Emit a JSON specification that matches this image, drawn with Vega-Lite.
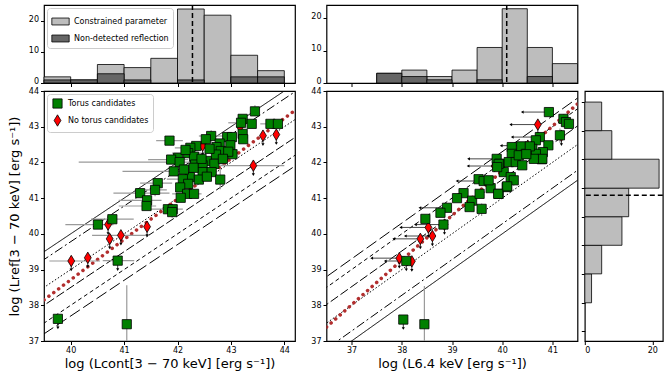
{
  "$schema": "https://vega.github.io/schema/vega-lite/v6.json",
  "background": "white",
  "padding": {"left": 7, "top": 3, "right": 0, "bottom": 0},
  "config": {
    "font": "DejaVu Sans",
    "view": {"stroke": "black", "strokeWidth": 1.2},
    "axis": {"grid": false, "domain": false, "tickColor": "black", "tickSize": 3.5, "tickWidth": 1, "labelColor": "black", "labelFontSize": 8, "labelFont": "DejaVu Sans", "labelPadding": 2, "labelOverlap": false, "titleFont": "DejaVu Sans", "titleFontWeight": "normal", "titleColor": "black", "titleFontSize": 13},
    "legend": {"labelFont": "DejaVu Sans", "labelColor": "black"}
  },
  "datasets": {
    "histL": [
      {"kind": "Constrained parameter", "lo": 39.5, "hi": 40, "n": 2},
      {"kind": "Constrained parameter", "lo": 40, "hi": 40.5, "n": 1},
      {"kind": "Constrained parameter", "lo": 40.5, "hi": 41, "n": 6},
      {"kind": "Constrained parameter", "lo": 41, "hi": 41.5, "n": 5},
      {"kind": "Constrained parameter", "lo": 41.5, "hi": 42, "n": 8},
      {"kind": "Constrained parameter", "lo": 42, "hi": 42.5, "n": 24},
      {"kind": "Constrained parameter", "lo": 42.5, "hi": 43, "n": 22},
      {"kind": "Constrained parameter", "lo": 43, "hi": 43.5, "n": 9},
      {"kind": "Constrained parameter", "lo": 43.5, "hi": 44, "n": 4},
      {"kind": "Non-detected reflection", "lo": 39.5, "hi": 40, "n": 1},
      {"kind": "Non-detected reflection", "lo": 40, "hi": 40.5, "n": 1},
      {"kind": "Non-detected reflection", "lo": 40.5, "hi": 41, "n": 3},
      {"kind": "Non-detected reflection", "lo": 41, "hi": 41.5, "n": 1},
      {"kind": "Non-detected reflection", "lo": 42, "hi": 42.5, "n": 1},
      {"kind": "Non-detected reflection", "lo": 43, "hi": 43.5, "n": 2},
      {"kind": "Non-detected reflection", "lo": 43.5, "hi": 44, "n": 2}
    ],
    "histT": [
      {"kind": "Constrained parameter", "lo": 37.5, "hi": 38, "n": 3},
      {"kind": "Constrained parameter", "lo": 38, "hi": 38.5, "n": 4},
      {"kind": "Constrained parameter", "lo": 38.5, "hi": 39, "n": 2},
      {"kind": "Constrained parameter", "lo": 39, "hi": 39.5, "n": 4},
      {"kind": "Constrained parameter", "lo": 39.5, "hi": 40, "n": 11},
      {"kind": "Constrained parameter", "lo": 40, "hi": 40.5, "n": 23},
      {"kind": "Constrained parameter", "lo": 40.5, "hi": 41, "n": 11},
      {"kind": "Constrained parameter", "lo": 41, "hi": 41.5, "n": 6},
      {"kind": "Non-detected reflection", "lo": 37.5, "hi": 38, "n": 3},
      {"kind": "Non-detected reflection", "lo": 38, "hi": 38.5, "n": 2},
      {"kind": "Non-detected reflection", "lo": 38.5, "hi": 39, "n": 1},
      {"kind": "Non-detected reflection", "lo": 39.5, "hi": 40, "n": 1},
      {"kind": "Non-detected reflection", "lo": 40.5, "hi": 41, "n": 2}
    ],
    "histR": [
      {"lo": 38.07, "hi": 38.88, "n": 2},
      {"lo": 38.88, "hi": 39.68, "n": 5},
      {"lo": 39.68, "hi": 40.48, "n": 11},
      {"lo": 40.48, "hi": 41.28, "n": 13},
      {"lo": 41.28, "hi": 42.09, "n": 22},
      {"lo": 42.09, "hi": 42.89, "n": 8},
      {"lo": 42.89, "hi": 43.69, "n": 5}
    ],
    "medL": [{"v": 42.28}],
    "medT": [{"v": 40.09}],
    "medR": [{"v": 41.08}],
    "diagL": [
      {"style": "a", "x1": 36, "y1": 36, "x2": 46, "y2": 46},
      {"style": "b", "x1": 36, "y1": 35.78, "x2": 46, "y2": 45.78},
      {"style": "c", "x1": 36, "y1": 35, "x2": 46, "y2": 45},
      {"style": "d", "x1": 36, "y1": 34.5, "x2": 46, "y2": 44.5},
      {"style": "e", "x1": 36, "y1": 34, "x2": 46, "y2": 44},
      {"style": "f", "x1": 36, "y1": 33.7, "x2": 46, "y2": 43.7}
    ],
    "diagR": [
      {"style": "a", "x1": 36, "y1": 36, "x2": 46, "y2": 46},
      {"style": "b", "x1": 36, "y1": 36.28, "x2": 46, "y2": 46.28},
      {"style": "c", "x1": 36, "y1": 37, "x2": 46, "y2": 47},
      {"style": "d", "x1": 36, "y1": 37.52, "x2": 46, "y2": 47.52},
      {"style": "e", "x1": 36, "y1": 38, "x2": 46, "y2": 48},
      {"style": "f", "x1": 36, "y1": 38.3, "x2": 46, "y2": 48.3}
    ],
    "fitL": [{"x1": 39.5, "y1": 38.15, "x2": 44.2, "y2": 43.46}],
    "fitR": [{"x1": 36.5, "y1": 37.39, "x2": 41.5, "y2": 43.64}],
    "ptsL": [
      {"type": "No torus candidates", "x": 43.17, "y": 43.0},
      {"type": "No torus candidates", "x": 42.47, "y": 42.47, "ya": 42.22},
      {"type": "No torus candidates", "x": 43.6, "y": 42.75, "ya": 42.5},
      {"type": "No torus candidates", "x": 43.85, "y": 42.78, "ya": 42.53},
      {"type": "No torus candidates", "x": 43.42, "y": 41.91, "ya": 41.66, "xlo": 42.8, "xhi": 44.0},
      {"type": "No torus candidates", "x": 40.7, "y": 40.26, "ya": 40.01},
      {"type": "No torus candidates", "x": 41.43, "y": 40.2, "ya": 39.95},
      {"type": "No torus candidates", "x": 40.73, "y": 39.86, "ya": 39.61},
      {"type": "No torus candidates", "x": 40.94, "y": 39.96, "ya": 39.71, "xlo": 40.4, "xhi": 41.47},
      {"type": "No torus candidates", "x": 40.01, "y": 39.24, "ya": 38.99, "xlo": 39.6, "xhi": 40.55},
      {"type": "No torus candidates", "x": 40.32, "y": 39.33, "ya": 39.08},
      {"type": "Torus candidates", "x": 43.45, "y": 43.43, "ylo": 43.3, "yhi": 43.6},
      {"type": "Torus candidates", "x": 43.22, "y": 43.22},
      {"type": "Torus candidates", "x": 43.19, "y": 43.11, "xlo": 42.95, "xhi": 43.4},
      {"type": "Torus candidates", "x": 43.39, "y": 43.08},
      {"type": "Torus candidates", "x": 43.74, "y": 43.08, "xlo": 43.55, "xhi": 43.95},
      {"type": "Torus candidates", "x": 43.88, "y": 43.08},
      {"type": "Torus candidates", "x": 43.22, "y": 42.8, "ylo": 42.6, "yhi": 42.95},
      {"type": "Torus candidates", "x": 43.23, "y": 42.65},
      {"type": "Torus candidates", "x": 42.63, "y": 42.74, "xlo": 42.4, "xhi": 42.85, "ylo": 42.55, "yhi": 42.9},
      {"type": "Torus candidates", "x": 42.93, "y": 42.71},
      {"type": "Torus candidates", "x": 43.02, "y": 42.71},
      {"type": "Torus candidates", "x": 41.85, "y": 42.61, "xlo": 41.6, "xhi": 42.1},
      {"type": "Torus candidates", "x": 42.53, "y": 42.65},
      {"type": "Torus candidates", "x": 42.35, "y": 42.46},
      {"type": "Torus candidates", "x": 42.79, "y": 42.53},
      {"type": "Torus candidates", "x": 42.99, "y": 42.48},
      {"type": "Torus candidates", "x": 42.24, "y": 42.41, "xlo": 41.95, "xhi": 42.55},
      {"type": "Torus candidates", "x": 42.73, "y": 42.43},
      {"type": "Torus candidates", "x": 42.81, "y": 42.32},
      {"type": "Torus candidates", "x": 42.2, "y": 42.26, "xlo": 41.9, "xhi": 42.5},
      {"type": "Torus candidates", "x": 42.72, "y": 42.22},
      {"type": "Torus candidates", "x": 43.03, "y": 42.23},
      {"type": "Torus candidates", "x": 42.01, "y": 42.13},
      {"type": "Torus candidates", "x": 42.31, "y": 42.16},
      {"type": "Torus candidates", "x": 41.88, "y": 42.08, "xlo": 41.45, "xhi": 42.2},
      {"type": "Torus candidates", "x": 42.04, "y": 42.01, "xlo": 40.15, "xhi": 42.3},
      {"type": "Torus candidates", "x": 42.55, "y": 42.04},
      {"type": "Torus candidates", "x": 42.33, "y": 41.94},
      {"type": "Torus candidates", "x": 42.69, "y": 41.96, "xlo": 42.45, "xhi": 42.9},
      {"type": "Torus candidates", "x": 42.47, "y": 41.92},
      {"type": "Torus candidates", "x": 41.93, "y": 41.75, "xlo": 40.97, "xhi": 42.1},
      {"type": "Torus candidates", "x": 42.47, "y": 41.73},
      {"type": "Torus candidates", "x": 42.64, "y": 41.73},
      {"type": "Torus candidates", "x": 42.23, "y": 41.59},
      {"type": "Torus candidates", "x": 42.1, "y": 41.53, "xlo": 41.8, "xhi": 42.4},
      {"type": "Torus candidates", "x": 42.4, "y": 41.52},
      {"type": "Torus candidates", "x": 42.8, "y": 41.52, "ylo": 41.25, "yhi": 41.8},
      {"type": "Torus candidates", "x": 41.63, "y": 41.42, "xlo": 41.3, "xhi": 41.9},
      {"type": "Torus candidates", "x": 42.2, "y": 41.4},
      {"type": "Torus candidates", "x": 42.05, "y": 41.3},
      {"type": "Torus candidates", "x": 41.58, "y": 41.23, "xlo": 41.2, "xhi": 41.8, "ylo": 41.05, "yhi": 41.4},
      {"type": "Torus candidates", "x": 41.3, "y": 41.14, "xlo": 40.8, "xhi": 41.85},
      {"type": "Torus candidates", "x": 42.18, "y": 41.12, "xlo": 41.9, "xhi": 42.45},
      {"type": "Torus candidates", "x": 42.31, "y": 41.12},
      {"type": "Torus candidates", "x": 42.06, "y": 41.01},
      {"type": "Torus candidates", "x": 41.43, "y": 40.94, "xlo": 40.9, "xhi": 41.7},
      {"type": "Torus candidates", "x": 41.42, "y": 40.78, "xlo": 40.9, "xhi": 41.6},
      {"type": "Torus candidates", "x": 41.82, "y": 40.69, "xlo": 41.5, "xhi": 42.1},
      {"type": "Torus candidates", "x": 41.91, "y": 40.69},
      {"type": "Torus candidates", "x": 41.9, "y": 40.61, "ylo": 40.45, "yhi": 40.75},
      {"type": "Torus candidates", "x": 40.78, "y": 40.41, "xlo": 40.38, "xhi": 41.18},
      {"type": "Torus candidates", "x": 40.51, "y": 40.26, "xlo": 39.9, "xhi": 40.8},
      {"type": "Torus candidates", "x": 40.88, "y": 39.25, "xlo": 40.6, "xhi": 41.19, "ya": 39.0},
      {"type": "Torus candidates", "x": 39.76, "y": 37.62, "ya": 37.37},
      {"type": "Torus candidates", "x": 41.05, "y": 37.47, "ylo": 37.0, "yhi": 38.56},
      {"type": "Torus candidates", "x": 42.95, "y": 42.3},
      {"type": "Torus candidates", "x": 42.15, "y": 42.35},
      {"type": "Torus candidates", "x": 42.45, "y": 42.1},
      {"type": "Torus candidates", "x": 42.6, "y": 42.38},
      {"type": "Torus candidates", "x": 42.3, "y": 41.85},
      {"type": "Torus candidates", "x": 42.85, "y": 42.1},
      {"type": "Torus candidates", "x": 42.12, "y": 41.8},
      {"type": "Torus candidates", "x": 42.55, "y": 41.6}
    ],
    "ptsR": [
      {"type": "No torus candidates", "x": 38.37, "y": 39.86, "xa": 37.84, "ya": 39.61},
      {"type": "No torus candidates", "x": 38.53, "y": 40.18, "xa": 37.98, "ya": 39.93},
      {"type": "No torus candidates", "x": 38.61, "y": 39.94, "xa": 38.07, "ya": 39.69},
      {"type": "No torus candidates", "x": 38.85, "y": 40.26, "xa": 38.27, "ya": 40.01},
      {"type": "No torus candidates", "x": 37.95, "y": 39.32, "xa": 37.4, "ya": 39.07},
      {"type": "No torus candidates", "x": 38.2, "y": 39.23, "ya": 38.98},
      {"type": "No torus candidates", "x": 39.85, "y": 41.9, "xa": 39.32},
      {"type": "No torus candidates", "x": 40.51, "y": 42.47, "xa": 39.98, "ya": 42.22},
      {"type": "No torus candidates", "x": 40.71, "y": 43.06, "xa": 40.17, "ya": 42.81},
      {"type": "No torus candidates", "x": 41.18, "y": 42.75, "ya": 42.5},
      {"type": "Torus candidates", "x": 40.93, "y": 43.41, "xa": 40.4},
      {"type": "Torus candidates", "x": 41.22, "y": 43.22},
      {"type": "Torus candidates", "x": 41.27, "y": 43.13},
      {"type": "Torus candidates", "x": 41.33, "y": 43.08},
      {"type": "Torus candidates", "x": 41.15, "y": 42.76, "ylo": 42.55, "yhi": 42.95},
      {"type": "Torus candidates", "x": 40.75, "y": 42.71, "xa": 40.2},
      {"type": "Torus candidates", "x": 40.67, "y": 42.62, "ylo": 42.5, "yhi": 42.8},
      {"type": "Torus candidates", "x": 40.92, "y": 42.48},
      {"type": "Torus candidates", "x": 40.19, "y": 42.43},
      {"type": "Torus candidates", "x": 40.38, "y": 42.45},
      {"type": "Torus candidates", "x": 40.6, "y": 42.38},
      {"type": "Torus candidates", "x": 40.81, "y": 42.29},
      {"type": "Torus candidates", "x": 40.19, "y": 42.24},
      {"type": "Torus candidates", "x": 40.47, "y": 42.24},
      {"type": "Torus candidates", "x": 40.67, "y": 42.24},
      {"type": "Torus candidates", "x": 39.89, "y": 42.1, "xa": 39.33},
      {"type": "Torus candidates", "x": 40.79, "y": 42.09},
      {"type": "Torus candidates", "x": 39.95, "y": 41.96},
      {"type": "Torus candidates", "x": 40.13, "y": 42.01},
      {"type": "Torus candidates", "x": 40.27, "y": 42.01},
      {"type": "Torus candidates", "x": 40.4, "y": 41.92},
      {"type": "Torus candidates", "x": 40.03, "y": 41.73},
      {"type": "Torus candidates", "x": 40.17, "y": 41.59},
      {"type": "Torus candidates", "x": 40.23, "y": 41.5, "ylo": 41.35, "yhi": 41.65},
      {"type": "Torus candidates", "x": 39.53, "y": 41.53},
      {"type": "Torus candidates", "x": 39.63, "y": 41.48, "xa": 39.1},
      {"type": "Torus candidates", "x": 39.77, "y": 41.28},
      {"type": "Torus candidates", "x": 39.93, "y": 41.12},
      {"type": "Torus candidates", "x": 40.09, "y": 41.31},
      {"type": "Torus candidates", "x": 39.23, "y": 41.14},
      {"type": "Torus candidates", "x": 39.1, "y": 41.0},
      {"type": "Torus candidates", "x": 39.4, "y": 40.93},
      {"type": "Torus candidates", "x": 39.35, "y": 40.75},
      {"type": "Torus candidates", "x": 39.55, "y": 41.12},
      {"type": "Torus candidates", "x": 39.59, "y": 40.7, "ylo": 40.5, "yhi": 40.85},
      {"type": "Torus candidates", "x": 38.9, "y": 40.73, "xa": 38.36},
      {"type": "Torus candidates", "x": 38.77, "y": 40.59},
      {"type": "Torus candidates", "x": 38.47, "y": 40.42},
      {"type": "Torus candidates", "x": 38.83, "y": 40.26},
      {"type": "Torus candidates", "x": 40.55, "y": 42.45},
      {"type": "Torus candidates", "x": 40.8, "y": 42.1},
      {"type": "Torus candidates", "x": 40.63, "y": 42.1},
      {"type": "Torus candidates", "x": 40.33, "y": 42.2},
      {"type": "Torus candidates", "x": 39.93, "y": 41.96},
      {"type": "Torus candidates", "x": 39.9, "y": 41.87},
      {"type": "Torus candidates", "x": 39.73, "y": 41.5},
      {"type": "Torus candidates", "x": 40.1, "y": 41.33},
      {"type": "Torus candidates", "x": 39.92, "y": 41.12},
      {"type": "Torus candidates", "x": 40.48, "y": 42.23},
      {"type": "Torus candidates", "x": 38.09, "y": 39.24, "xa": 37.67, "ya": 38.99},
      {"type": "Torus candidates", "x": 38.03, "y": 37.6, "ya": 37.35},
      {"type": "Torus candidates", "x": 38.45, "y": 37.47, "ylo": 37.0, "yhi": 38.54}
    ]
  },
  "spacing": 13.5,
  "resolve": {"scale": {"color": "independent", "shape": "independent", "fill": "independent", "size": "independent", "strokeDash": "independent"}},
  "hconcat": [
    {
      "vconcat": [
        {
          "width": 251, "height": 78,
          "layer": [
            {"data": {"name": "histL"},
             "mark": {"type": "bar", "stroke": "black", "strokeWidth": 0.8},
             "encoding": {
               "x": {"field": "lo", "type": "quantitative", "scale": {"domain": [39.5, 44.2], "nice": false, "zero": false}, "axis": {"values": [40, 41, 42, 43, 44], "tickCount": 5, "labels": false, "title": null}},
               "x2": {"field": "hi"},
               "y": {"field": "n", "type": "quantitative", "stack": null, "scale": {"domain": [0, 25.3], "nice": false}, "axis": {"values": [0, 10, 20], "tickCount": 3, "format": "d", "labelOffset": -2, "title": null}},
               "y2": {"datum": 0},
               "fill": {"field": "kind", "type": "nominal", "scale": {"domain": ["Constrained parameter", "Non-detected reflection"], "range": ["#bdbdbd", "#666666"]},
                        "legend": {"title": null, "orient": "top-left", "offset": 3, "fillColor": "white", "strokeColor": "#cccccc", "padding": 4, "cornerRadius": 3, "labelFontSize": 8, "symbolType": "M-1,-0.4H1V0.4H-1Z", "symbolSize": 300, "symbolStrokeColor": "black", "symbolStrokeWidth": 0.8, "rowPadding": 2}}
             }},
            {"data": {"name": "medL"},
             "mark": {"type": "rule", "color": "black", "strokeWidth": 1.5, "strokeDash": [5, 3]},
             "encoding": {"x": {"field": "v", "type": "quantitative", "scale": {"domain": [39.5, 44.2], "nice": false, "zero": false}}}}
          ]
        },
        {
          "width": 251, "height": 250,
          "layer": [
            {"data": {"name": "diagL"},
             "mark": {"type": "rule", "clip": true, "color": "black", "strokeWidth": 1},
             "encoding": {
               "x": {"field": "x1", "type": "quantitative", "scale": {"domain": [39.5, 44.2], "nice": false, "zero": false}, "axis": {"values": [40, 41, 42, 43, 44], "tickCount": 5, "format": "d", "title": "log (Lcont[3 − 70 keV] [erg s⁻¹])", "titlePadding": 3}},
               "y": {"field": "y1", "type": "quantitative", "scale": {"domain": [37, 44], "nice": false, "zero": false}, "axis": {"values": [37, 38, 39, 40, 41, 42, 43, 44], "tickCount": 8, "format": "d", "title": "log (Lref[3 − 70 keV] [erg s⁻¹])", "titlePadding": 7}},
               "x2": {"field": "x2"}, "y2": {"field": "y2"},
               "strokeDash": {"field": "style", "type": "nominal", "scale": {"domain": ["a", "b", "c", "d", "e", "f"], "range": [[1, 0], [9, 3, 2, 3], [1.5, 2], [9, 3], [4, 3], [12, 4]]}, "legend": null}
             }},
            {"data": {"name": "fitL"},
             "mark": {"type": "rule", "clip": true, "color": "#b22e2e", "strokeWidth": 3.5, "strokeDash": [0.1, 6], "strokeCap": "round"},
             "encoding": {
               "x": {"field": "x1", "type": "quantitative", "scale": {"domain": [39.5, 44.2], "nice": false, "zero": false}},
               "y": {"field": "y1", "type": "quantitative", "scale": {"domain": [37, 44], "nice": false, "zero": false}},
               "x2": {"field": "x2"}, "y2": {"field": "y2"}
             }},
            {"data": {"name": "ptsL"}, "transform": [{"filter": "isValid(datum.xlo)"}],
             "mark": {"type": "rule", "clip": true, "color": "#9a9a9a", "strokeWidth": 1.2},
             "encoding": {
               "x": {"field": "xlo", "type": "quantitative", "scale": {"domain": [39.5, 44.2], "nice": false, "zero": false}},
               "x2": {"field": "xhi"},
               "y": {"field": "y", "type": "quantitative", "scale": {"domain": [37, 44], "nice": false, "zero": false}}
             }},
            {"data": {"name": "ptsL"}, "transform": [{"filter": "isValid(datum.ylo)"}],
             "mark": {"type": "rule", "clip": true, "color": "#9a9a9a", "strokeWidth": 1.2},
             "encoding": {
               "x": {"field": "x", "type": "quantitative", "scale": {"domain": [39.5, 44.2], "nice": false, "zero": false}},
               "y": {"field": "ylo", "type": "quantitative", "scale": {"domain": [37, 44], "nice": false, "zero": false}},
               "y2": {"field": "yhi"}
             }},
            {"data": {"name": "ptsL"}, "transform": [{"filter": "isValid(datum.ya)"}],
             "mark": {"type": "rule", "clip": true, "color": "black", "strokeWidth": 0.8},
             "encoding": {
               "x": {"field": "x", "type": "quantitative", "scale": {"domain": [39.5, 44.2], "nice": false, "zero": false}},
               "y": {"field": "y", "type": "quantitative", "scale": {"domain": [37, 44], "nice": false, "zero": false}},
               "y2": {"field": "ya"}
             }},
            {"data": {"name": "ptsL"}, "transform": [{"filter": "isValid(datum.ya)"}],
             "mark": {"type": "point", "shape": "triangle-down", "filled": true, "color": "black", "size": 10, "opacity": 1},
             "encoding": {
               "x": {"field": "x", "type": "quantitative", "scale": {"domain": [39.5, 44.2], "nice": false, "zero": false}},
               "y": {"field": "ya", "type": "quantitative", "scale": {"domain": [37, 44], "nice": false, "zero": false}}
             }},
            {"data": {"name": "ptsL"},
             "mark": {"type": "point", "filled": true, "opacity": 1, "stroke": "black", "strokeWidth": 0.8},
             "encoding": {
               "x": {"field": "x", "type": "quantitative", "scale": {"domain": [39.5, 44.2], "nice": false, "zero": false}},
               "y": {"field": "y", "type": "quantitative", "scale": {"domain": [37, 44], "nice": false, "zero": false}},
               "color": {"field": "type", "type": "nominal", "scale": {"domain": ["Torus candidates", "No torus candidates"], "range": ["#008000", "#ff0000"]},
                         "legend": {"title": null, "orient": "top-left", "offset": 3, "fillColor": "white", "strokeColor": "#cccccc", "padding": 4, "cornerRadius": 3, "labelFontSize": 8, "symbolSize": 70, "symbolStrokeColor": "black", "symbolStrokeWidth": 0.8, "rowPadding": 3}},
               "shape": {"field": "type", "type": "nominal", "scale": {"domain": ["Torus candidates", "No torus candidates"], "range": ["square", "M0,-1L0.6,0L0,1L-0.6,0Z"]},
                         "legend": {"title": null, "orient": "top-left", "offset": 3, "fillColor": "white", "strokeColor": "#cccccc", "padding": 4, "cornerRadius": 3, "labelFontSize": 8, "symbolSize": 70, "symbolStrokeColor": "black", "symbolStrokeWidth": 0.8, "rowPadding": 3}},
               "size": {"field": "type", "type": "nominal", "scale": {"domain": ["Torus candidates", "No torus candidates"], "range": [85, 130]}, "legend": null}
             }}
          ]
        }
      ],
      "spacing": 8,
      "bounds": "flush",
      "resolve": {"scale": {"color": "independent", "shape": "independent", "fill": "independent", "size": "independent", "strokeDash": "independent"}}
    },
    {
      "hconcat": [
        {
          "vconcat": [
            {
              "width": 251, "height": 78,
              "layer": [
                {"data": {"name": "histT"},
                 "mark": {"type": "bar", "stroke": "black", "strokeWidth": 0.8},
                 "encoding": {
                   "x": {"field": "lo", "type": "quantitative", "scale": {"domain": [36.5, 41.5], "nice": false, "zero": false}, "axis": {"values": [37, 38, 39, 40, 41], "tickCount": 5, "labels": false, "title": null}},
                   "x2": {"field": "hi"},
                   "y": {"field": "n", "type": "quantitative", "stack": null, "scale": {"domain": [0, 24.15], "nice": false}, "axis": {"values": [0, 10, 20], "tickCount": 3, "format": "d", "labelOffset": -2, "title": null}},
                   "y2": {"datum": 0},
                   "fill": {"field": "kind", "type": "nominal", "scale": {"domain": ["Constrained parameter", "Non-detected reflection"], "range": ["#bdbdbd", "#666666"]}, "legend": null}
                 }},
                {"data": {"name": "medT"},
                 "mark": {"type": "rule", "color": "black", "strokeWidth": 1.5, "strokeDash": [5, 3]},
                 "encoding": {"x": {"field": "v", "type": "quantitative", "scale": {"domain": [36.5, 41.5], "nice": false, "zero": false}}}}
              ]
            },
            {
              "width": 251, "height": 250,
              "layer": [
                {"data": {"name": "diagR"},
                 "mark": {"type": "rule", "clip": true, "color": "black", "strokeWidth": 1},
                 "encoding": {
                   "x": {"field": "x1", "type": "quantitative", "scale": {"domain": [36.5, 41.5], "nice": false, "zero": false}, "axis": {"values": [37, 38, 39, 40, 41], "tickCount": 5, "format": "d", "title": "log (L6.4 keV [erg s⁻¹])", "titlePadding": 3}},
                   "y": {"field": "y1", "type": "quantitative", "scale": {"domain": [37, 44], "nice": false, "zero": false}, "axis": {"values": [37, 38, 39, 40, 41, 42, 43, 44], "tickCount": 8, "format": "d", "title": null}},
                   "x2": {"field": "x2"}, "y2": {"field": "y2"},
                   "strokeDash": {"field": "style", "type": "nominal", "scale": {"domain": ["a", "b", "c", "d", "e", "f"], "range": [[1, 0], [9, 3, 2, 3], [1.5, 2], [9, 3], [4, 3], [12, 4]]}, "legend": null}
                 }},
                {"data": {"name": "fitR"},
                 "mark": {"type": "rule", "clip": true, "color": "#b22e2e", "strokeWidth": 3.5, "strokeDash": [0.1, 6], "strokeCap": "round"},
                 "encoding": {
                   "x": {"field": "x1", "type": "quantitative", "scale": {"domain": [36.5, 41.5], "nice": false, "zero": false}},
                   "y": {"field": "y1", "type": "quantitative", "scale": {"domain": [37, 44], "nice": false, "zero": false}},
                   "x2": {"field": "x2"}, "y2": {"field": "y2"}
                 }},
                {"data": {"name": "ptsR"}, "transform": [{"filter": "isValid(datum.ylo)"}],
                 "mark": {"type": "rule", "clip": true, "color": "#9a9a9a", "strokeWidth": 1.2},
                 "encoding": {
                   "x": {"field": "x", "type": "quantitative", "scale": {"domain": [36.5, 41.5], "nice": false, "zero": false}},
                   "y": {"field": "ylo", "type": "quantitative", "scale": {"domain": [37, 44], "nice": false, "zero": false}},
                   "y2": {"field": "yhi"}
                 }},
                {"data": {"name": "ptsR"}, "transform": [{"filter": "isValid(datum.xa)"}],
                 "mark": {"type": "rule", "clip": true, "color": "#333333", "strokeWidth": 0.9},
                 "encoding": {
                   "x": {"field": "x", "type": "quantitative", "scale": {"domain": [36.5, 41.5], "nice": false, "zero": false}},
                   "x2": {"field": "xa"},
                   "y": {"field": "y", "type": "quantitative", "scale": {"domain": [37, 44], "nice": false, "zero": false}}
                 }},
                {"data": {"name": "ptsR"}, "transform": [{"filter": "isValid(datum.xa)"}],
                 "mark": {"type": "point", "shape": "triangle-left", "filled": true, "color": "black", "size": 10, "opacity": 1},
                 "encoding": {
                   "x": {"field": "xa", "type": "quantitative", "scale": {"domain": [36.5, 41.5], "nice": false, "zero": false}},
                   "y": {"field": "y", "type": "quantitative", "scale": {"domain": [37, 44], "nice": false, "zero": false}}
                 }},
                {"data": {"name": "ptsR"}, "transform": [{"filter": "isValid(datum.ya)"}],
                 "mark": {"type": "rule", "clip": true, "color": "black", "strokeWidth": 0.8},
                 "encoding": {
                   "x": {"field": "x", "type": "quantitative", "scale": {"domain": [36.5, 41.5], "nice": false, "zero": false}},
                   "y": {"field": "y", "type": "quantitative", "scale": {"domain": [37, 44], "nice": false, "zero": false}},
                   "y2": {"field": "ya"}
                 }},
                {"data": {"name": "ptsR"}, "transform": [{"filter": "isValid(datum.ya)"}],
                 "mark": {"type": "point", "shape": "triangle-down", "filled": true, "color": "black", "size": 10, "opacity": 1},
                 "encoding": {
                   "x": {"field": "x", "type": "quantitative", "scale": {"domain": [36.5, 41.5], "nice": false, "zero": false}},
                   "y": {"field": "ya", "type": "quantitative", "scale": {"domain": [37, 44], "nice": false, "zero": false}}
                 }},
                {"data": {"name": "ptsR"},
                 "mark": {"type": "point", "filled": true, "opacity": 1, "stroke": "black", "strokeWidth": 0.8},
                 "encoding": {
                   "x": {"field": "x", "type": "quantitative", "scale": {"domain": [36.5, 41.5], "nice": false, "zero": false}},
                   "y": {"field": "y", "type": "quantitative", "scale": {"domain": [37, 44], "nice": false, "zero": false}},
                   "color": {"field": "type", "type": "nominal", "scale": {"domain": ["Torus candidates", "No torus candidates"], "range": ["#008000", "#ff0000"]}, "legend": null},
                   "shape": {"field": "type", "type": "nominal", "scale": {"domain": ["Torus candidates", "No torus candidates"], "range": ["square", "M0,-1L0.6,0L0,1L-0.6,0Z"]}, "legend": null},
                   "size": {"field": "type", "type": "nominal", "scale": {"domain": ["Torus candidates", "No torus candidates"], "range": [85, 130]}, "legend": null}
                 }}
              ]
            }
          ],
          "spacing": 8,
          "bounds": "flush",
          "resolve": {"scale": {"color": "independent", "shape": "independent", "fill": "independent", "size": "independent", "strokeDash": "independent"}}
        },
        {
          "vconcat": [
            {
              "width": 78, "height": 78,
              "view": {"stroke": null},
              "data": {"values": [{"a": 1}]},
              "mark": {"type": "point", "opacity": 0},
              "encoding": {}
            },
            {
              "width": 78, "height": 250,
              "layer": [
                {"data": {"name": "histR"},
                 "mark": {"type": "bar", "fill": "#bdbdbd", "stroke": "black", "strokeWidth": 0.8},
                 "encoding": {
                   "y": {"field": "lo", "type": "quantitative", "scale": {"domain": [37, 44], "nice": false, "zero": false}, "axis": {"values": [37.27, 38.07, 38.88, 39.68, 40.48, 41.28, 42.09, 42.89, 43.69], "tickCount": 9, "labels": false, "title": null}},
                   "y2": {"field": "hi"},
                   "x": {"field": "n", "type": "quantitative", "scale": {"domain": [0, 23.1], "nice": false}, "axis": {"values": [0, 20], "tickCount": 2, "format": "d", "title": null}},
                   "x2": {"datum": 0}
                 }},
                {"data": {"name": "medR"},
                 "mark": {"type": "rule", "color": "black", "strokeWidth": 1.5, "strokeDash": [5, 3]},
                 "encoding": {"y": {"field": "v", "type": "quantitative", "scale": {"domain": [37, 44], "nice": false, "zero": false}}}}
              ]
            }
          ],
          "spacing": 8,
          "bounds": "flush"
        }
      ],
      "spacing": 1.3,
      "resolve": {"scale": {"color": "independent", "shape": "independent", "fill": "independent", "size": "independent", "strokeDash": "independent"}}
    }
  ]
}
